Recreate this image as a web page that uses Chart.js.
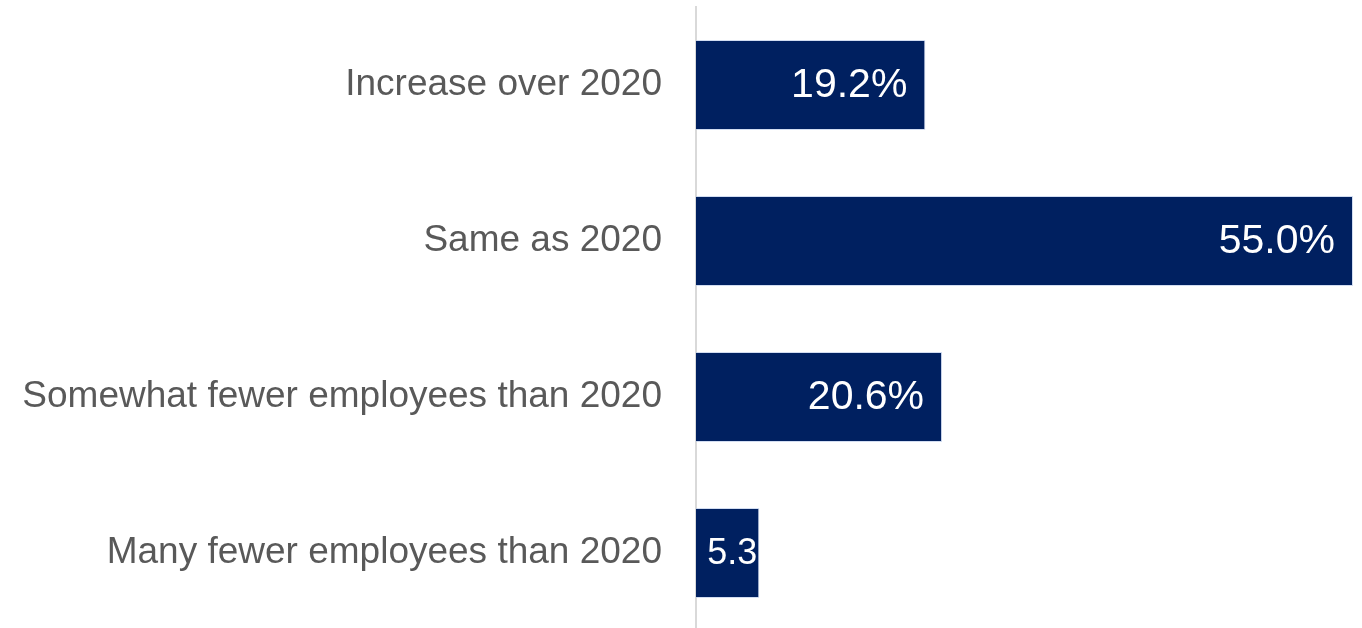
<!DOCTYPE html>
<html>
<head>
<meta charset="utf-8">
<script src="https://cdn.jsdelivr.net/npm/chart.js@4"></script>
<style>
  html, body { margin: 0; padding: 0; background: #fff; overflow: hidden; }
  #wrap { width: 1362px; height: 631px; position: relative; }
</style>
</head>
<body>
<div id="wrap"><canvas id="grafico"></canvas></div>
<script>
// datos del grafico
var categorias = ['Increase over 2020', 'Same as 2020', 'Somewhat fewer employees than 2020', 'Many fewer employees than 2020'];
var valores = [19.2, 55.0, 20.6, 5.3];
var etiquetas = ['19.2%', '55.0%', '20.6%', '5.3'];

// etiquetas blancas dentro de las barras
var pluginEtiquetas = {
  id: 'etiquetas',
  afterDatasetsDraw: function(chart) {
    var ctx = chart.ctx;
    var meta = chart.getDatasetMeta(0);
    ctx.save();
    ctx.fillStyle = '#ffffff';
    ctx.textAlign = 'right';
    ctx.textBaseline = 'middle';
    meta.data.forEach(function(bar, i) {
      var chico = valores[i] < 10;
      ctx.font = (chico ? '36px' : '41px') + ' "Liberation Sans", Arial, sans-serif';
      ctx.fillText(etiquetas[i], bar.x - (chico ? 2 : 18), bar.y + 1);
    });
    ctx.restore();
  }
};

var lienzo = document.getElementById('grafico').getContext('2d');
var grafico = new Chart(lienzo, {
  type: 'bar',
  data: {
    labels: categorias,
    datasets: [{
      data: valores,
      backgroundColor: '#002060',
      borderColor: 'rgba(180,199,231,0.6)',
      borderWidth: 1,
      categoryPercentage: 1,
      barPercentage: 0.577
    }]
  },
  options: {
    indexAxis: 'y',
    responsive: true,
    maintainAspectRatio: false,
    animation: false,
    layout: { padding: { top: 7, right: 9, left: 0, bottom: 0 } },
    plugins: { legend: { display: false }, tooltip: { enabled: false } },
    scales: {
      x: { display: false, min: 0, max: 55 },
      y: {
        grid: { display: true, drawOnChartArea: false, drawTicks: false },
        border: { display: true, color: '#d9d9d9', width: 2 },
        ticks: {
          color: '#595959',
          padding: 34,
          font: { family: '"Liberation Sans", Arial, sans-serif', size: 37 }
        },
        afterFit: function(scale) {
          scale.width = 696;
          scale.paddingTop = 0;
          scale.paddingBottom = 0;
        }
      }
    }
  },
  plugins: [pluginEtiquetas]
});
</script>
</body>
</html>
